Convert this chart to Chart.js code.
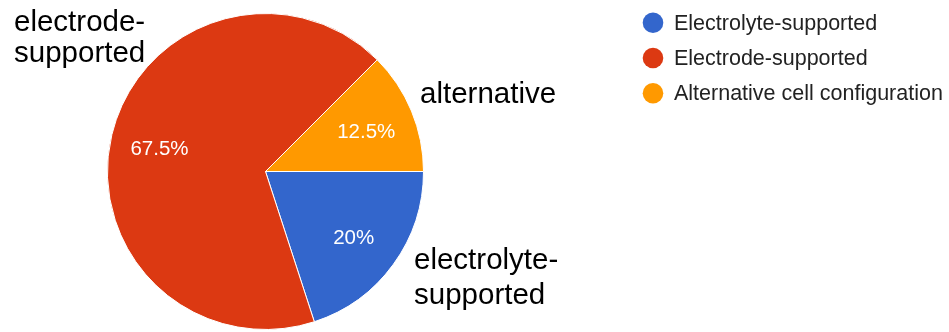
<!DOCTYPE html>
<html>
<head>
<meta charset="utf-8">
<script src="https://cdn.jsdelivr.net/npm/chart.js@4"></script>
<style>
  html, body { margin: 0; padding: 0; background: #fff; overflow: hidden; }
  #wrap { position: relative; width: 949px; height: 332px; }
</style>
</head>
<body>
<div id="wrap"><canvas id="myChart" width="949" height="332"></canvas></div>
<script>
const labels = ["Electrolyte-supported", "Electrode-supported", "Alternative cell configuration"];
const shares = [20, 67.5, 12.5];
const colors = ["#3366cc", "#dc3912", "#ff9900"];

// black notes printed next to the slices
const notes = [
  { lines: ["electrode-", "supported"], x: 14, y: 31, gap: 31 },
  { lines: ["alternative"], x: 420, y: 103, gap: 0 },
  { lines: ["electrolyte-", "supported"], x: 414, y: 269, gap: 35 },
];

const FONT = "'Liberation Sans', Arial, sans-serif";

const sliceLabels = {
  id: "sliceLabels",
  afterDatasetsDraw(chart) {
    const ctx = chart.ctx;
    const meta = chart.getDatasetMeta(0);
    ctx.save();
    ctx.fillStyle = "#fff";
    ctx.font = `20.5px ${FONT}`;
    ctx.textAlign = "center";
    ctx.textBaseline = "middle";
    meta.data.forEach((arc, i) => {
      const { x, y, startAngle, endAngle, outerRadius } = arc.getProps(["x", "y", "startAngle", "endAngle", "outerRadius"], true);
      const mid = (startAngle + endAngle) / 2;
      const r = outerRadius * 0.69;
      ctx.fillText(`${shares[i]}%`, x + Math.cos(mid) * r, y + Math.sin(mid) * r + 3);
    });
    ctx.restore();
  },
};

const sideLegend = {
  id: "sideLegend",
  afterDraw(chart) {
    const ctx = chart.ctx;
    ctx.save();
    ctx.font = `21.5px ${FONT}`;
    ctx.textBaseline = "middle";
    chart.data.labels.forEach((label, i) => {
      const cy = 22.7 + i * 35.3;
      ctx.fillStyle = chart.data.datasets[0].backgroundColor[i];
      ctx.beginPath();
      ctx.arc(653, cy, 10.3, 0, Math.PI * 2);
      ctx.fill();
      ctx.fillStyle = "#222";
      ctx.fillText(label, 674, cy + 1);
    });
    ctx.fillStyle = "#000";
    ctx.font = `29.5px ${FONT}`;
    ctx.textBaseline = "alphabetic";
    notes.forEach((n) => {
      n.lines.forEach((line, k) => ctx.fillText(line, n.x, n.y + k * n.gap));
    });
    ctx.restore();
  },
};

const pieChart = {
  type: "pie",
  data: {
    labels: labels,
    datasets: [
      {
        label: "Share",
        data: shares,
        backgroundColor: colors,
        borderColor: "#fff",
        borderWidth: 1,
      },
    ],
  },
  options: {
    responsive: false,
    animation: false,
    rotation: 90,
    layout: { padding: { left: 107, right: 525, top: 13, bottom: 2 } },
    plugins: {
      legend: { display: false },
      tooltip: { enabled: false },
    },
  },
  plugins: [sliceLabels, sideLegend],
};

const ctx = document.querySelector("canvas#myChart").getContext("2d");
const myChart = new Chart(ctx, pieChart);
</script>
</body>
</html>
